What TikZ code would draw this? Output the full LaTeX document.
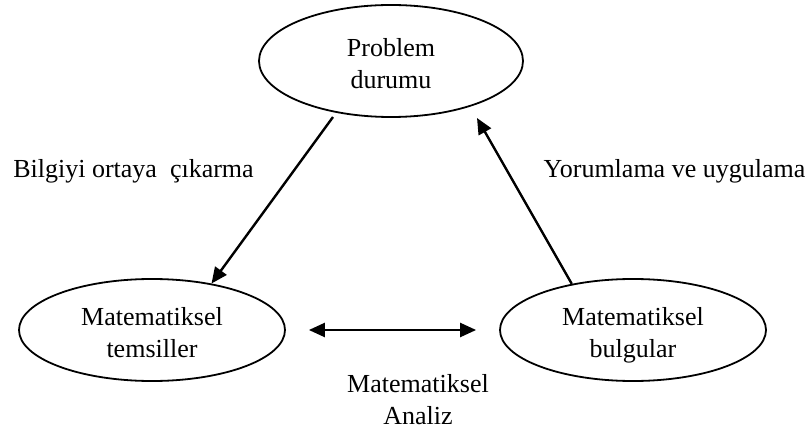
\documentclass[tikz,border=0pt]{standalone}
\usepackage{fontspec}
\setmainfont{Liberation Serif}
\usetikzlibrary{shapes.geometric,arrows.meta}
\newcommand{\firstpad}{\rule{0pt}{29pt}}
\newcommand{\lastpad}{\rule[-6pt]{0pt}{6pt}}
\begin{document}
\begin{tikzpicture}[x=1pt,y=-1pt,
  bub/.style={ellipse,draw,line width=1.8pt,inner sep=0pt,align=center,
    font=\fontsize{26}{31.5}\selectfont},
  lbl/.style={inner sep=0pt,font=\fontsize{26}{31.5}\selectfont},
  con/.style={line width=2.4pt,-{Triangle[length=16pt,width=14pt]}},
  dcon/.style={line width=2.4pt,{Triangle[length=16pt,width=14pt]}-{Triangle[length=16pt,width=14pt]}}]
\useasboundingbox (0,0) rectangle (811,430);
\node[bub,minimum width=264pt,minimum height=112pt] (top) at (391,61) {\firstpad Problem\\durumu\lastpad};
\node[bub,minimum width=266pt,minimum height=102pt] (L) at (152,330) {\firstpad Matematiksel\\temsiller\lastpad};
\node[bub,minimum width=266pt,minimum height=102pt] (R) at (633,330) {\firstpad Matematiksel\\bulgular\lastpad};
\coordinate (s1) at (333,117);
\coordinate (e2) at (477,118);
\draw[con] (s1) -- (L.38);
\draw[con] (R.143) -- (e2);
\draw[dcon,shorten <=23pt,shorten >=23pt] (L.east) -- (R.west);
\node[lbl,anchor=base] (t1) at (133.5,178) {Bilgiyi ortaya\ \ çıkarma};
\node[lbl,anchor=base] (t2) at (674.5,178) {Yorumlama ve uygulama};
\node[lbl,align=center] (t3) at (418,397) {\firstpad Matematiksel\\Analiz\lastpad};
\end{tikzpicture}
\end{document}
